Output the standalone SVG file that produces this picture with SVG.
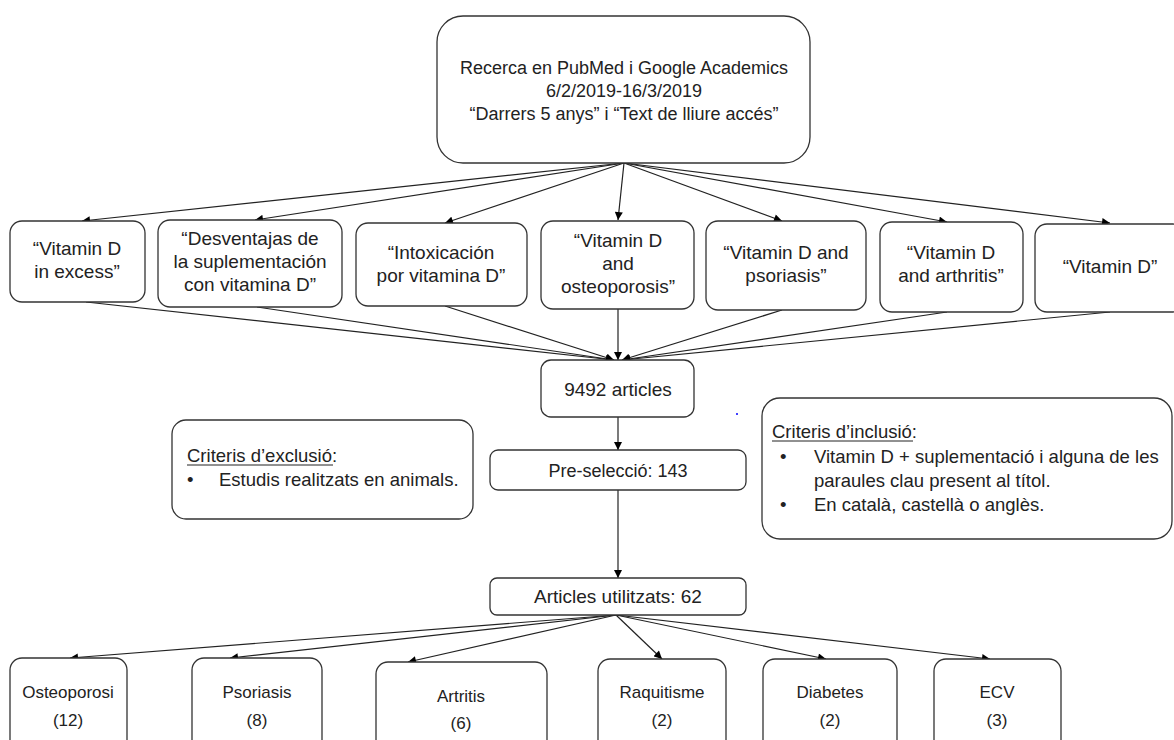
<svg xmlns="http://www.w3.org/2000/svg" width="1174" height="740" viewBox="0 0 1174 740">
<defs>
<marker id="ah" viewBox="0 0 10 10" refX="10" refY="5" markerWidth="9" markerHeight="8" markerUnits="userSpaceOnUse" orient="auto">
<path d="M0,0 L10,5 L0,10 z" fill="#000"/>
</marker>
<style>
.box{fill:#fff;stroke:#333;stroke-width:1.3}
.t{font-family:"Liberation Sans",Arial,sans-serif;font-size:18px;fill:#222;text-anchor:middle}
.tr{font-family:"Liberation Sans",Arial,sans-serif;font-size:19px;fill:#222;text-anchor:middle}
.tl{font-family:"Liberation Sans",Arial,sans-serif;font-size:18.5px;fill:#222}
.tb{font-family:"Liberation Sans",Arial,sans-serif;font-size:17px;fill:#222;text-anchor:middle}
.c{stroke:#222;stroke-width:1.2;fill:none;marker-end:url(#ah)}
</style>
</defs>
<rect width="1174" height="740" fill="#fff"/>
<g id="connectors">
<line class="c" x1="624" y1="163" x2="82" y2="221"/>
<line class="c" x1="624" y1="163" x2="255" y2="220"/>
<line class="c" x1="624" y1="163" x2="445" y2="223"/>
<line class="c" x1="624" y1="163" x2="618" y2="220"/>
<line class="c" x1="624" y1="163" x2="782" y2="221"/>
<line class="c" x1="624" y1="163" x2="947" y2="222"/>
<line class="c" x1="624" y1="163" x2="1110" y2="223"/>
<line class="c" x1="86" y1="302" x2="614" y2="360"/>
<line class="c" x1="257" y1="307" x2="614" y2="360"/>
<line class="c" x1="445" y1="306" x2="614" y2="360"/>
<line class="c" x1="618" y1="309" x2="618" y2="360"/>
<line class="c" x1="782" y1="310" x2="622" y2="360"/>
<line class="c" x1="947" y1="312" x2="622" y2="360"/>
<line class="c" x1="1110" y1="312" x2="622" y2="360"/>
<line class="c" x1="618" y1="417" x2="618" y2="450"/>
<line class="c" x1="618" y1="490" x2="618" y2="578"/>
<line class="c" x1="616" y1="615" x2="70" y2="658"/>
<line class="c" x1="616" y1="615" x2="230" y2="658"/>
<line class="c" x1="616" y1="615" x2="408" y2="662"/>
<line class="c" x1="616" y1="615" x2="662" y2="659"/>
<line class="c" x1="616" y1="615" x2="826" y2="659"/>
<line class="c" x1="616" y1="615" x2="990" y2="659"/>
</g>
<g id="search">
<rect class="box" x="437" y="16" width="373" height="147" rx="26"/>
<text class="t" x="624" y="74">Recerca en PubMed i Google Academics</text>
<text class="t" x="624" y="97">6/2/2019-16/3/2019</text>
<text class="t" x="624" y="120">“Darrers 5 anys” i “Text de lliure accés”</text>
</g>
<g id="k1">
<rect class="box" x="10" y="221" width="135" height="81" rx="12"/>
<text class="tr" x="77" y="255">“Vitamin D</text>
<text class="tr" x="77" y="278">in excess”</text>
</g>
<g id="k2">
<rect class="box" x="158" y="220" width="184" height="87" rx="12"/>
<text class="tr" x="250" y="245">“Desventajas de</text>
<text class="tr" x="250" y="268">la suplementación</text>
<text class="tr" x="250" y="291">con vitamina D”</text>
</g>
<g id="k3">
<rect class="box" x="356" y="223" width="171" height="83" rx="12"/>
<text class="tr" x="441" y="259">“Intoxicación</text>
<text class="tr" x="441" y="282">por vitamina D”</text>
</g>
<g id="k4">
<rect class="box" x="541" y="221" width="153" height="88" rx="12"/>
<text class="tr" x="618" y="247">“Vitamin D</text>
<text class="tr" x="618" y="270">and</text>
<text class="tr" x="618" y="293">osteoporosis”</text>
</g>
<g id="k5">
<rect class="box" x="706" y="221" width="160" height="89" rx="12"/>
<text class="tr" x="786" y="259">“Vitamin D and</text>
<text class="tr" x="786" y="282">psoriasis”</text>
</g>
<g id="k6">
<rect class="box" x="880" y="222" width="143" height="90" rx="12"/>
<text class="tr" x="951" y="259">“Vitamin D</text>
<text class="tr" x="951" y="282">and arthritis”</text>
</g>
<g id="k7">
<rect class="box" x="1035" y="224" width="150" height="88" rx="12"/>
<text class="tr" x="1110" y="273">“Vitamin D”</text>
</g>
<g id="total">
<rect class="box" x="541" y="360" width="153" height="57" rx="10"/>
<text class="tr" x="618" y="396">9492 articles</text>
</g>
<circle cx="737" cy="414" r="1" fill="#00f"/>
<g id="exclusion">
<rect class="box" x="172" y="420" width="301" height="99" rx="14"/>
<text class="tl" x="187" y="462">Criteris d’exclusió:</text>
<line x1="187" y1="465" x2="333" y2="465" stroke="#222" stroke-width="1"/>
<text class="tl" x="187" y="486">•</text>
<text class="tl" x="219" y="486">Estudis realitzats en animals.</text>
</g>
<g id="preselection">
<rect class="box" x="490" y="450" width="256" height="40" rx="8"/>
<text class="t" x="618" y="477">Pre-selecció: 143</text>
</g>
<g id="inclusion">
<rect class="box" x="762" y="398" width="410" height="141" rx="18"/>
<text class="tl" x="772" y="438">Criteris d’inclusió:</text>
<line x1="772" y1="441" x2="913" y2="441" stroke="#222" stroke-width="1"/>
<text class="tl" x="780" y="463">•</text>
<text class="tl" x="814" y="463">Vitamin D + suplementació i alguna de les</text>
<text class="tl" x="814" y="487">paraules clau present al títol.</text>
<text class="tl" x="780" y="511">•</text>
<text class="tl" x="814" y="511">En català, castellà o anglès.</text>
</g>
<g id="used">
<rect class="box" x="490" y="578" width="256" height="37" rx="7"/>
<text class="tr" x="618" y="603">Articles utilitzats: 62</text>
</g>
<g id="r1">
<rect class="box" x="10" y="658" width="117" height="100" rx="12"/>
<text class="tb" x="68" y="698">Osteoporosi</text>
<text class="tb" x="68" y="726">(12)</text>
</g>
<g id="r2">
<rect class="box" x="192" y="658" width="130" height="100" rx="12"/>
<text class="tb" x="257" y="698">Psoriasis</text>
<text class="tb" x="257" y="726">(8)</text>
</g>
<g id="r3">
<rect class="box" x="376" y="662" width="171" height="100" rx="12"/>
<text class="tb" x="461" y="702">Artritis</text>
<text class="tb" x="461" y="729">(6)</text>
</g>
<g id="r4">
<rect class="box" x="598" y="659" width="128" height="100" rx="12"/>
<text class="tb" x="662" y="698">Raquitisme</text>
<text class="tb" x="662" y="726">(2)</text>
</g>
<g id="r5">
<rect class="box" x="763" y="659" width="134" height="100" rx="12"/>
<text class="tb" x="830" y="698">Diabetes</text>
<text class="tb" x="830" y="726">(2)</text>
</g>
<g id="r6">
<rect class="box" x="934" y="659" width="127" height="100" rx="12"/>
<text class="tb" x="997" y="698">ECV</text>
<text class="tb" x="997" y="726">(3)</text>
</g>
</svg>
